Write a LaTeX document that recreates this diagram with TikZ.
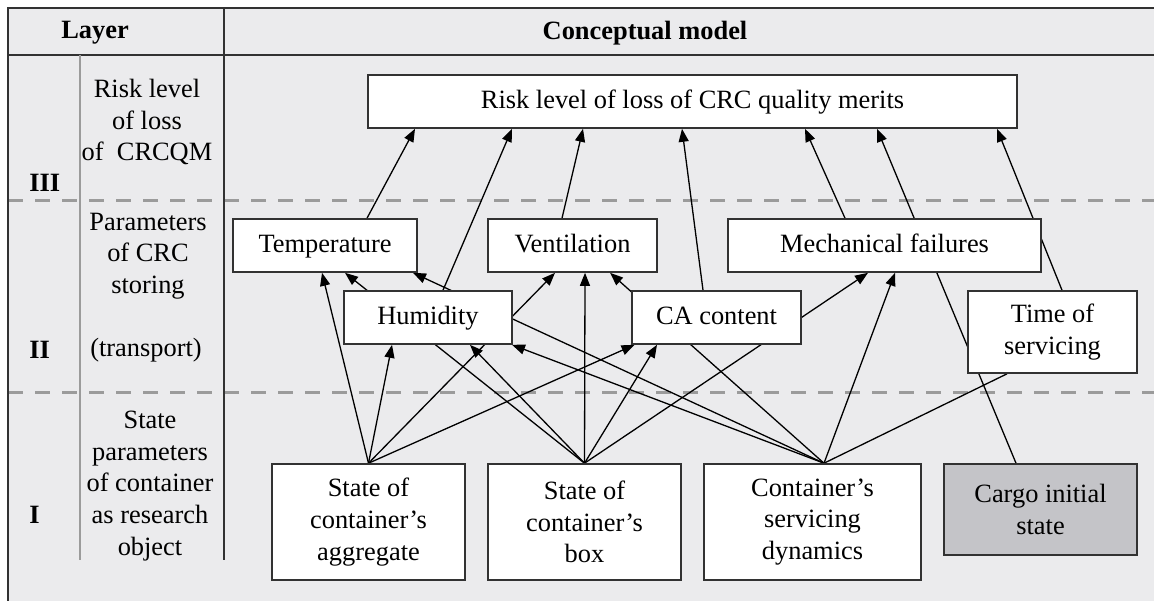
\documentclass[tikz,border=0pt]{standalone}
\usepackage{fontspec}
\setmainfont{Liberation Serif}
\usetikzlibrary{arrows.meta,calc}
\definecolor{panelgray}{RGB}{235,235,237}
\definecolor{cargogray}{RGB}{196,196,200}
\definecolor{rulegray}{RGB}{155,155,155}
\definecolor{framegray}{RGB}{50,50,50}
\pgfdeclarelayer{back}
\pgfdeclarelayer{wires}
\pgfsetlayers{back,wires,main}

\begin{document}
\begin{tikzpicture}[x=0.5pt,y=-0.5pt,
  every node/.style={font=\fontsize{13.2}{15.8}\selectfont,inner sep=0pt},
  box/.style={draw=framegray,line width=0.8pt,fill=white,align=center,minimum height=26.5pt},
  onebox/.style={box,text height=0.66em,text depth=0pt},
  link/.style={line width=0.65pt,-{Triangle[length=6.5pt,width=5pt]}},
  sep/.style={rulegray,line width=1.5pt,dash pattern=on 7.5pt off 6pt}]
\useasboundingbox (0,0) rectangle (1154,601);
\begin{pgfonlayer}{back}
\fill[panelgray] (8,8) rectangle (1154,601);
\draw[sep] (8,200) -- (1154,200);
\draw[sep] (8,392) -- (1154,392);
\draw[framegray,line width=1pt] (1154,8) -- (8,8) -- (8,601) (8,55) -- (1154,55) (224,8) -- (224,560);
\draw[rulegray,line width=0.7pt] (80,55) -- (80,560);
\end{pgfonlayer}

\node (layerhead) at (95,33) {\bfseries Layer};
\node (modelhead) at (645,33) {\bfseries Conceptual model};
\node[anchor=west] (lay3) at (29,183) {\bfseries III};
\node[anchor=west] (lay2) at (29,350) {\bfseries II};
\node[anchor=west] (lay1) at (29,515) {\bfseries I};
\node[align=center] (riskcol) at (147,122) {Risk level\\of loss\\of~ CRCQM};
\node[align=center] (paramcol) at (148,256) {Parameters\\of CRC\\storing};
\node (transcol) at (146,350) {(transport)};
\node[align=center] (statecol) at (150,486) {State\\parameters\\of container\\as research\\object};

\node[onebox,minimum width=324.5pt] (risk) at (692.5,101.5) {Risk level of loss of CRC quality merits};
\node[onebox,minimum width=92pt] (temp) at (325,245.5) {Temperature};
\node[onebox,minimum width=84.5pt] (vent) at (572.5,245.5) {Ventilation};
\node[onebox,minimum width=156.5pt] (mech) at (884.5,245.5) {Mechanical failures};
\node[onebox,minimum width=84pt] (humid) at (428,317.5) {Humidity};
\node[onebox,minimum width=84.5pt] (ca) at (716.5,317.5) {CA content};
\node[box,minimum width=84.5pt,minimum height=41pt] (time) at (1052.5,332) {Time of\\servicing};
\node[box,minimum width=96.5pt,minimum height=58pt] (aggr) at (368.5,522) {State of\\container's\\aggregate};
\node[box,minimum width=96.5pt,minimum height=58pt] (boxn) at (584.5,522) {State of\\container's\\box};
\node[box,minimum width=108.5pt,minimum height=58pt] (dyn) at (812.5,522) {Container's\\servicing\\dynamics};
\node[box,fill=cargogray,minimum width=96.5pt,minimum height=45.5pt] (cargo) at (1040.5,509.5) {Cargo initial\\state};

\coordinate (aggrsrc) at (aggr.north);
\coordinate (boxsrc) at (boxn.north);
\coordinate (dynsrc) at ($(dyn.north)+(11.5,0)$);
\coordinate (cargosrc) at ($(cargo.north)+(-24.5,0)$);

\begin{pgfonlayer}{wires}
\foreach \from/\to/\dx in {aggrsrc/temp/-3, aggrsrc/humid/-36, aggrsrc/vent/-17.5, aggrsrc/ca/-82,
  boxsrc/temp/20, boxsrc/humid/42, boxsrc/vent/12.5, boxsrc/ca/-59.5, boxsrc/mech/-16.5,
  dynsrc/temp/88, dynsrc/humid/84, dynsrc/vent/37.5, dynsrc/mech/10.5}
  \draw[link] (\from) -- ($(\to.south)+(\dx,0)$);
\draw[line width=0.65pt] (dynsrc) -- ($(time.south)+(-45.5,0)$);
\foreach \from/\sx/\dx in {temp/42/-277.5, humid/15/-180.5, vent/-10.5/-109.5, ca/-13.5/-10.5,
  mech/-39.5/112.5, time/9.5/304.5}
  \draw[link] ($(\from.north)+(\sx,0)$) -- ($(risk.south)+(\dx,0)$);
\draw[link] (cargosrc) -- ($(risk.south)+(184.5,0)$);
\end{pgfonlayer}
\end{tikzpicture}
\end{document}
